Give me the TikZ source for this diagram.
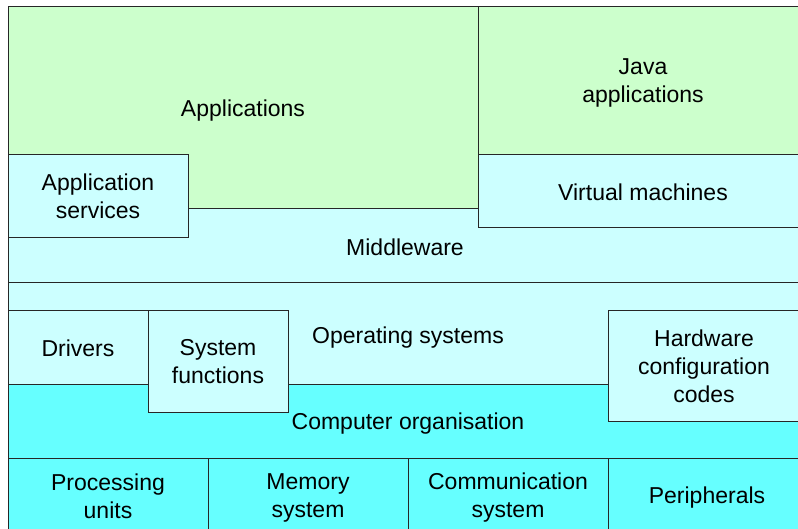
\documentclass[tikz,border=0pt]{standalone}
\usepackage{fontspec}
\setmainfont{Liberation Sans}
\definecolor{appgreen}{HTML}{CCFFCC}
\definecolor{palecyan}{HTML}{CCFFFF}
\definecolor{hwcyan}{HTML}{66FFFF}
\tikzset{
    layer/.style={draw=black!85, line width=1pt},
    box/.style={layer, rectangle, inner sep=0pt, anchor=north west},
    label/.style={align=center, inner sep=0pt},
}
\begin{document}
\begin{tikzpicture}[x=1pt, y=-1pt, font=\fontsize{23}{28}\selectfont]
    \useasboundingbox (0, 0) rectangle (798, 529);
    % application layer
    \fill [appgreen] (8, 7) rectangle (810, 209);
    \draw [layer] (8, 209) -- (8, 7) -- (810, 7);
    \draw [layer] (478, 7) -- (478, 154);
    \node [label] (apps) at (243, 110.7) {Applications};
    \node [label] (java) at (643, 83) {Java\\applications};
    % middleware
    \draw [layer, fill=palecyan] (8, 209) rectangle (810, 283);
    \node [label] (middleware) at (405, 246.8) {Middleware};
    \node [box, fill=palecyan, minimum width=180pt, minimum height=83pt]
        (appservbox) at (8, 154) {};
    \node [box, fill=palecyan, minimum width=330pt, minimum height=73pt]
        (vmbox) at (478, 154) {};
    \node [label] (appservices) at (98, 196.5) {Application\\services};
    \node [label] (vm) at (643, 191.8) {Virtual machines};
    % operating systems
    \draw [layer, fill=palecyan] (8, 283) rectangle (810, 384);
    \node [label] (os) at (408, 337.3) {Operating systems};
    % computer organisation
    \draw [layer, fill=hwcyan] (8, 384) rectangle (810, 458);
    \node [label] (comporg) at (408, 424) {Computer organisation};
    \node [box, fill=palecyan, minimum width=140pt, minimum height=74pt]
        (driverbox) at (8, 310) {};
    \node [box, fill=palecyan, minimum width=140pt, minimum height=102pt]
        (sysfuncbox) at (148, 310) {};
    \node [box, fill=palecyan, minimum width=192pt, minimum height=111pt]
        (hwconfigbox) at (608, 310) {};
    \node [label] (drivers) at (78, 348.5) {Drivers};
    \node [label] (sysfunc) at (218, 361.8) {System\\functions};
    \node [label] (hwconfig) at (704, 365.8) {Hardware\\configuration\\codes};
    % hardware units
    \node [box, fill=hwcyan, minimum width=200pt, minimum height=74pt]
        (cpubox) at (8, 458) {};
    \node [box, fill=hwcyan, minimum width=200pt, minimum height=74pt]
        (memorybox) at (208, 458) {};
    \node [box, fill=hwcyan, minimum width=200pt, minimum height=74pt]
        (commbox) at (408, 458) {};
    \node [box, fill=hwcyan, minimum width=200pt, minimum height=74pt]
        (periphbox) at (608, 458) {};
    \node [label] (cpu) at (108, 496.4) {Processing\\units};
    \node [label] (memory) at (308, 498) {Memory\\system};
    \node [label] (comm) at (508, 498) {Communication\\system};
    \node [label] (periph) at (707, 497.3) {Peripherals};
\end{tikzpicture}
\end{document}
